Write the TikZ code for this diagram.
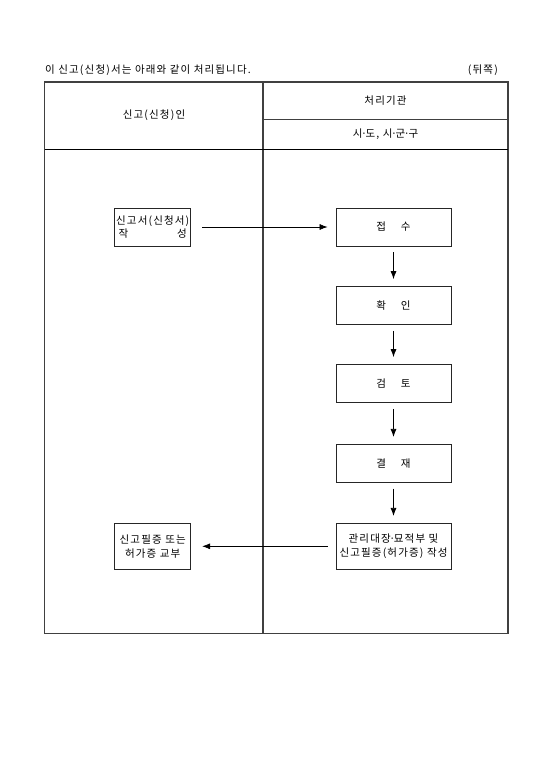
\documentclass[tikz,border=0pt]{standalone}
\usepackage{fontspec}
\setmainfont{Noto Sans CJK KR}[LetterSpace=11]
\usetikzlibrary{arrows.meta}
\newcommand{\middot}{\makebox[0.3em]{·}}
\begin{document}
\begin{tikzpicture}[x = 1pt, y = -1pt, font = \fontsize{10.5}{14}\selectfont,
  stepbox/.style = {draw, black!85, line width = 0.8pt, text = black, inner sep = 0pt,
    minimum width = 115pt, minimum height = 38pt, align = center},
  sidebox/.style = {stepbox, minimum width = 76pt},
  flow/.style = {-{Latex[length = 8pt, width = 6pt]}, line width = 0.7pt, shorten <= 6pt, shorten >= 7pt}]

			\useasboundingbox (0, 0) rectangle (554, 784);

			\node[anchor = west, inner sep = 0pt] (title) at (45, 70) {이 신고(신청)서는 아래와 같이 처리됩니다.};
			\node[anchor = east, inner sep = 0pt] (side) at (498, 70) {(뒤쪽)};

			\draw[black!75, line width = 1.1pt] (44.7, 82) rectangle (508, 633.7); % table
			\draw[black!75, line width = 1.1pt] (263, 82) -- (263, 633.7); % divider
			\draw[line width = 0.7pt] (44.7, 149.3) -- (508, 149.3); % header
			\draw[black!75, line width = 0.8pt] (263, 119.7) -- (508, 119.7);

			\node (applicant) at (154, 115.5) {신고(신청)인};
			\node (office) at (385.5, 100.5) {처리기관};
			\node (city) at (385.5, 134.5) {시\middot 도, 시\middot 군\middot 구};

			\node[sidebox, inner sep = 1pt] (write) at (152.7, 227) {신고서(신청서)\\[-1pt] \makebox[68pt]{작\hfill 성}};
			\node[stepbox] (receive) at (393.5, 227) {접\hspace{1.4em}수};
			\node[stepbox] (confirm) at (393.5, 305.5) {확\hspace{1.4em}인};
			\node[stepbox] (review) at (393.5, 383.5) {검\hspace{1.4em}토};
			\node[stepbox] (approve) at (393.5, 463.3) {결\hspace{1.4em}재};
			\node[stepbox, minimum height = 46pt] (issue) at (393.5, 546.3) {관리대장\middot 묘적부 및\\신고필증(허가증) 작성};
			\node[sidebox, minimum height = 46pt] (deliver) at (152.7, 546.3) {신고필증 또는\\허가증 교부};

			\draw[flow, shorten <= 11pt, shorten >= 8pt] (write) -- (receive);
			\draw[flow] (receive) -- (confirm);
			\draw[flow] (confirm) -- (review);
			\draw[flow] (review) -- (approve);
			\draw[flow] (approve) -- (issue);
			\draw[flow, shorten <= 8pt, shorten >= 11pt] (issue) -- (deliver);
		\end{tikzpicture}
\end{document}
